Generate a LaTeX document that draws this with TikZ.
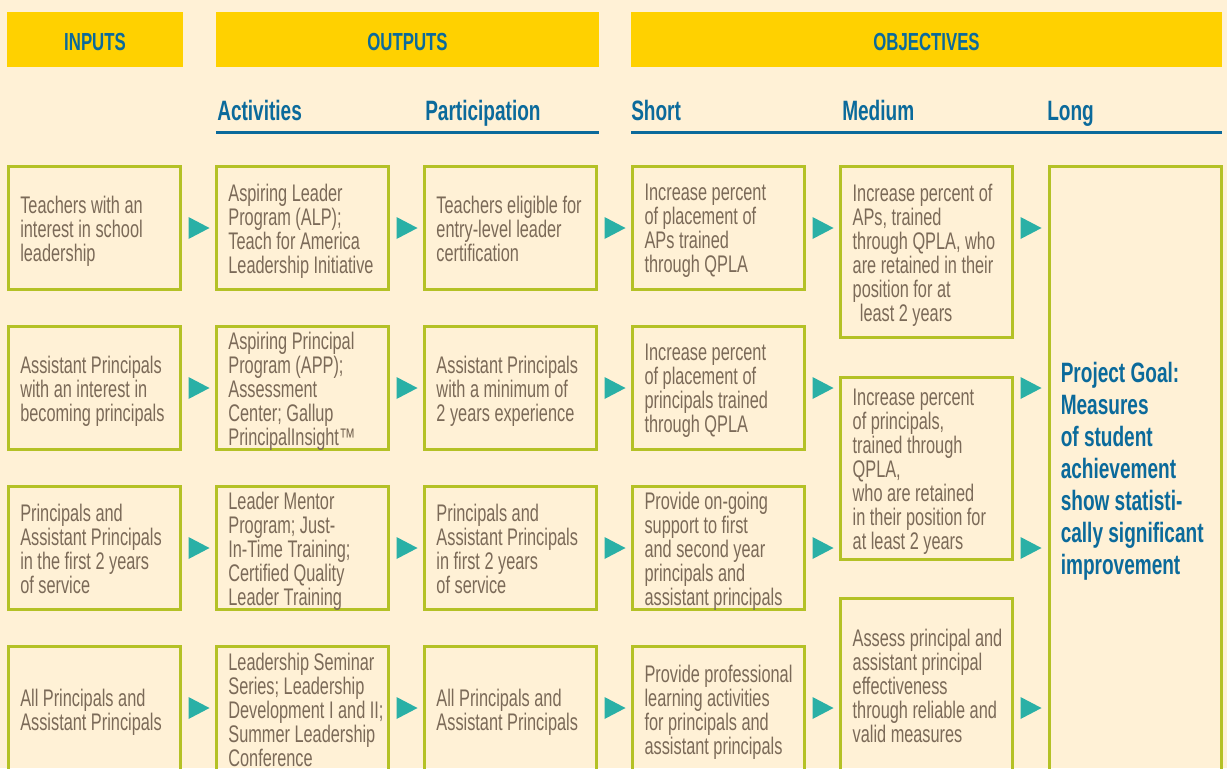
\documentclass[tikz,border=0pt]{standalone}
\usepackage{fontspec}
\setmainfont{Liberation Sans}[FakeStretch=0.68]
\usetikzlibrary{calc}
\definecolor{bgc}{HTML}{FFF1D6}
\definecolor{yellowc}{HTML}{FFD100}
\definecolor{bluec}{HTML}{0B6A9B}
\definecolor{borderc}{HTML}{B4C126}
\definecolor{tealc}{HTML}{2AB0A6}
\definecolor{textc}{HTML}{7B6A58}
\tikzset{
  box/.style={draw=borderc, line width=2.25pt, minimum width=129pt, minimum height=92.25pt, inner sep=0pt},
  hdr/.style={fill=yellowc, minimum height=41.25pt, inner sep=0pt, text height=16.25pt, text depth=0pt, text=bluec, font=\bfseries\fontsize{18.5}{20}\selectfont},
  txt/.style={anchor=west, xshift=9.75pt, yshift=-3pt, inner sep=0pt, align=left, text=textc, font=\fontsize{18}{18}\selectfont, execute at begin node=\strut, execute at end node=\strut},
  sub/.style={anchor=base west, inner sep=0pt, text=bluec, font=\bfseries\fontsize{21}{22}\selectfont},
  goaltxt/.style={anchor=west, xshift=9.75pt, yshift=-3pt, inner sep=0pt, align=left, text=bluec, font=\bfseries\fontsize{21}{24}\selectfont, execute at begin node=\strut, execute at end node=\strut},
  rule/.style={draw=bluec, line width=2.25pt},
  tri/.style={fill=tealc},
}
\newcommand\arrowtri[1]{\fill[tri] ($(#1)+(-10,-11)$) -- ($(#1)+(11,0)$) -- ($(#1)+(-10,11)$) -- cycle;}
\begin{document}
\begin{tikzpicture}[x=0.75pt,y=-0.75pt]
\useasboundingbox (0,0) rectangle (1227,768);
\clip (0,0) rectangle (1227,768);
\fill[bgc] (0,0) rectangle (1227,768);

% headers
\node[hdr, minimum width=132pt] (hin) at (95,39.5) {INPUTS};
\node[hdr, minimum width=287.25pt] (hout) at (407.5,39.5) {OUTPUTS};
\node[hdr, minimum width=443.25pt] (hobj) at (926.5,39.5) {OBJECTIVES};

\node[sub] (sact) at (217,120) {Activities};
\node[sub] (spar) at (425,120) {Participation};
\node[sub] (ssho) at (631,120) {Short};
\node[sub] (smed) at (842,120) {Medium};
\node[sub] (slon) at (1047,120) {Long};
\coordinate (u1a) at (216,132); \coordinate (u1b) at (599,132);
\coordinate (u2a) at (631,132); \coordinate (u2b) at (1222,132);
\draw[rule] (u1a) -- (u1b);
\draw[rule] (u2a) -- (u2b);

% boxes
\foreach \y [count=\r] in {228,388,548} {
  \foreach \x [count=\c] in {94.5,302.6,510.7,718.8} {
    \node[box] (b\r\c) at (\x,\y) {};
  }
}
\foreach \x [count=\c] in {94.5,302.6,510.7,718.8} {
  \node[box, minimum height=93.75pt] (b4\c) at (\x,709) {};
}
\node[box, minimum height=128.25pt] (m1) at (926.9,252) {};
\node[box, minimum height=136.5pt] (m2) at (926.9,468.5) {};
\node[box, minimum height=129.75pt] (m4) at (926.9,685) {};
\node[box, minimum height=453.75pt] (goal) at (1135,469) {};

% texts row 1
\node[txt] (t11) at (b11.west) {Teachers with an\\interest in school\\leadership};
\node[txt] (t12) at (b12.west) {Aspiring Leader\\Program (ALP);\\Teach for America\\Leadership Initiative};
\node[txt] (t13) at (b13.west) {Teachers eligible for\\entry-level leader\\certification};
\node[txt] (t14) at (b14.west) {Increase percent\\of placement of\\APs trained\\through QPLA};
\node[txt] (tm1) at (m1.west) {Increase percent of\\APs, trained\\through QPLA, who\\are retained in their\\position for at\\\hspace{0.3em}least 2 years};
% row 2
\node[txt] (t21) at (b21.west) {Assistant Principals\\with an interest in\\becoming principals};
\node[txt] (t22) at (b22.west) {Aspiring Principal\\Program (APP);\\Assessment\\Center; Gallup\\PrincipalInsight™};
\node[txt] (t23) at (b23.west) {Assistant Principals\\with a minimum of\\2 years experience};
\node[txt] (t24) at (b24.west) {Increase percent\\of placement of\\principals trained\\through QPLA};
\node[txt] (tm2) at (m2.west) {Increase percent\\of principals,\\trained through\\QPLA,\\who are retained\\in their position for\\at least 2 years};
% row 3
\node[txt] (t31) at (b31.west) {Principals and\\Assistant Principals\\in the first 2 years\\of service};
\node[txt] (t32) at (b32.west) {Leader Mentor\\Program; Just-\\In-Time Training;\\Certified Quality\\Leader Training};
\node[txt] (t33) at (b33.west) {Principals and\\Assistant Principals\\in first 2 years\\of service};
\node[txt] (t34) at (b34.west) {Provide on-going\\support to first\\and second year\\principals and\\assistant principals};
% row 4
\node[txt] (t41) at (b41.west) {All Principals and\\Assistant Principals};
\node[txt] (t42) at (b42.west) {Leadership Seminar\\Series; Leadership\\Development I and II;\\Summer Leadership\\Conference};
\node[txt] (t43) at (b43.west) {All Principals and\\Assistant Principals};
\node[txt] (t44) at (b44.west) {Provide professional\\learning activities\\for principals and\\assistant principals};
\node[txt] (tm4) at (m4.west) {Assess principal and\\assistant principal\\effectiveness\\through reliable and\\valid measures};
% goal
\node[goaltxt] (tg) at (goal.west) {Project Goal:\\Measures\\of student\\achievement\\show statisti-\\cally significant\\improvement};

% arrows
\foreach \y [count=\r] in {228,388,548,708} {
  \foreach \x [count=\g] in {198.5,406.5,614.5,822.5,1030.5} {
    \coordinate (a\r\g) at (\x,\y);
    \arrowtri{a\r\g}
  }
}
\end{tikzpicture}
\end{document}
